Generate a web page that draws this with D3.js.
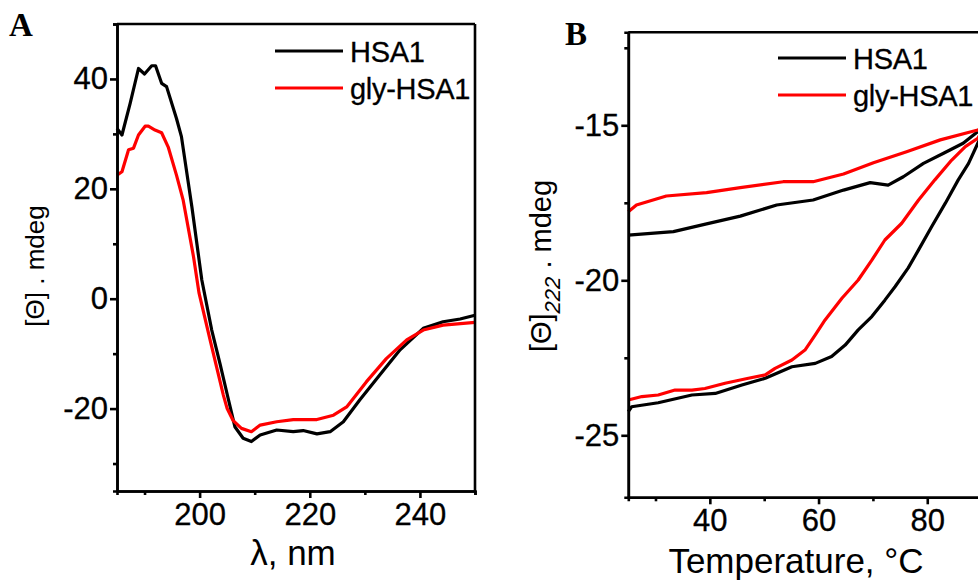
<!DOCTYPE html>
<html>
<head>
<meta charset="utf-8">
<script src="https://cdn.jsdelivr.net/npm/d3@7"></script>
<style>
  body { margin: 0; background: #fff; }
  svg { display: block; }
  text { font-family: "Liberation Sans", Arial, sans-serif; fill: #000; }
  .letter { font-family: "Liberation Serif", "Times New Roman", serif; font-weight: bold; }
</style>
</head>
<body>
<svg id="chart" width="978" height="581"></svg>
<script>
'use strict';

// panel A: far-UV CD spectra (wavelength nm, mdeg)
var hsaWl  = [185, 185.9, 187.4, 188.9, 190.0, 191.3, 192.0, 193.1, 194.0, 195.8, 196.7, 198.6, 200.4, 202.2, 203.7, 205.1, 206.4, 207.9, 209.4, 211.0, 214.0, 217.0, 218.8, 221.3, 223.7, 226.1, 229.1, 232.7, 236.4, 240.6, 244.2, 247.3, 250];
var hsaCd  = [31.0, 29.8, 35.6, 41.9, 40.9, 42.4, 42.4, 39.2, 38.6, 32.8, 29.5, 16.7, 3.4, -5.7, -11.8, -17.8, -23.3, -25.4, -26.0, -24.8, -23.9, -24.2, -24.0, -24.6, -24.2, -22.4, -18.4, -13.9, -9.3, -5.4, -4.2, -3.7, -3.0];
var glyWl  = [185, 185.9, 187.1, 188.0, 188.9, 190.1, 190.7, 191.9, 193.1, 194.3, 195.8, 197.0, 198.9, 199.9, 201.9, 204.3, 205.0, 206.1, 207.6, 209.4, 211.0, 214.0, 217.0, 221.3, 224.3, 226.7, 230.3, 233.9, 237.6, 240.6, 244.2, 250];
var glyCd  = [22.5, 23.1, 27.1, 27.4, 29.8, 31.4, 31.4, 30.7, 30.2, 27.6, 22.5, 18.0, 7.6, 1.0, -7.5, -17.5, -20.0, -22.2, -23.6, -24.2, -23.0, -22.4, -22.0, -22.0, -21.2, -19.7, -15.1, -10.9, -7.5, -5.7, -4.8, -4.3];

// panel B: thermal melt at 222 nm, heating then cooling (degC, mdeg)
var hsaT   = [25, 25.6, 30.5, 36.7, 41.0, 45.9, 50.2, 55.1, 59.4, 62.4, 64.9, 67.3, 69.8, 72.2, 74.1, 76.5, 78.4, 80.8, 83.3, 85.7, 87.6, 89.3, 90.5,
              89.3, 86.6, 83.0, 79.3, 75.6, 72.8, 69.5, 64.6, 59.0, 52.3, 45.6, 39.4, 33.3, 25];
var hsaTh  = [-24.24, -24.08, -23.95, -23.70, -23.65, -23.38, -23.16, -22.79, -22.68, -22.46, -22.09, -21.60, -21.17, -20.64, -20.20, -19.60, -19.02, -18.27, -17.52, -16.76, -16.23, -15.58, -15.10,
              -15.20, -15.58, -15.90, -16.23, -16.66, -16.93, -16.85, -17.09, -17.41, -17.57, -17.93, -18.18, -18.43, -18.54];
var glyT   = [25, 27.5, 30.5, 33.6, 36.7, 39.1, 42.8, 47.1, 50.2, 52.0, 55.1, 57.5, 59.4, 61.2, 64.3, 67.3, 69.8, 72.2, 75.3, 78.4, 81.4, 84.5, 87.0, 89.3, 90.5,
              89.3, 82.4, 76.2, 70.1, 64.6, 59.0, 53.5, 45.6, 39.4, 32.0, 26.5, 25];
var glyTh  = [-23.86, -23.75, -23.70, -23.54, -23.54, -23.49, -23.32, -23.16, -23.05, -22.84, -22.57, -22.25, -21.76, -21.28, -20.58, -19.99, -19.35, -18.70, -18.16, -17.41, -16.76, -16.12, -15.69, -15.42, -15.05,
              -15.15, -15.47, -15.85, -16.21, -16.57, -16.82, -16.82, -17.01, -17.17, -17.28, -17.57, -17.79];

var seriesNames  = ["HSA1", "gly-HSA1"];
var seriesColors = ["#000000", "#ff0000"];

var xTicksA = [200, 220, 240], xMinorA = [190, 210, 230, 250];
var yTicksA = [-20, 0, 20, 40], yMinorA = [-30, -10, 10, 30, 50];
var xTicksB = [40, 60, 80], xMinorB = [30, 50, 70, 90];
var yTicksB = [-25, -20, -15], yMinorB = [-22.5, -17.5, -12.5];

var svg = d3.select("#chart");

var zip = function(xs, ys) {
    return xs.map(function(x, i) { return [x, ys[i]]; });
};

// plain hyphen instead of d3's unicode minus
var fmt = function(d) { return String(d); };

var drawPanel = function(opt) {
    var x = d3.scaleLinear().domain(opt.xDomain).range(opt.xRange);
    var y = d3.scaleLinear().domain(opt.yDomain).range(opt.yRange);
    var g = svg.append("g");

    var line = d3.line()
        .x(function(d) { return x(d[0]); })
        .y(function(d) { return y(d[1]); });

    opt.data.forEach(function(d, i) {
        g.append("path")
            .datum(d)
            .attr("d", line)
            .style("fill", "none")
            .style("stroke", seriesColors[i])
            .style("stroke-width", 3.2)
            .style("stroke-linejoin", "round");
    });

    // minor ticks first, then major axis on top
    g.append("g")
        .attr("transform", "translate(0," + opt.yRange[0] + ")")
        .call(d3.axisBottom(x).tickValues(opt.xMinor).tickSize(4).tickFormat(""));
    g.append("g")
        .attr("transform", "translate(" + opt.xRange[0] + ",0)")
        .call(d3.axisLeft(y).tickValues(opt.yMinor).tickSize(4).tickFormat(""));
    g.append("g")
        .attr("transform", "translate(0," + opt.yRange[0] + ")")
        .call(d3.axisBottom(x).tickValues(opt.xTicks).tickFormat(fmt).tickSize(7).tickSizeOuter(0).tickPadding(5));
    g.append("g")
        .attr("transform", "translate(" + opt.xRange[0] + ",0)")
        .call(d3.axisLeft(y).tickValues(opt.yTicks).tickFormat(fmt).tickSize(7).tickSizeOuter(0).tickPadding(2));

    g.selectAll(".tick line, .domain").style("stroke", "#000").style("stroke-width", 2.6);
    g.selectAll(".tick text")
        .style("font-size", "31px")
        .style("stroke", "#000").style("stroke-width", 0.3);

    // frame
    g.append("line")
        .attr("x1", opt.xRange[0]).attr("x2", opt.xRange[1])
        .attr("y1", opt.yRange[1]).attr("y2", opt.yRange[1])
        .style("stroke", "#000").style("stroke-width", 2.6);
    g.append("line")
        .attr("x1", opt.xRange[1]).attr("x2", opt.xRange[1])
        .attr("y1", opt.yRange[0]).attr("y2", opt.yRange[1])
        .style("stroke", "#000").style("stroke-width", 2.6);

    // legend
    seriesNames.forEach(function(name, i) {
        var ly = opt.legend.y + i * 37;
        g.append("line")
            .attr("x1", opt.legend.x).attr("x2", opt.legend.x + 68)
            .attr("y1", ly).attr("y2", ly)
            .style("stroke", seriesColors[i]).style("stroke-width", 3.2);
        g.append("text")
            .attr("x", opt.legend.x + 75)
            .attr("y", ly + 11)
            .style("font-size", "29px")
            .style("letter-spacing", "-0.3px")
            .style("stroke", "#000").style("stroke-width", 0.3)
            .text(name);
    });

    return g;
};

var gA = drawPanel({
    xDomain: [185, 250], xRange: [117, 475],
    yDomain: [-35, 50], yRange: [491, 24],
    xTicks: xTicksA, xMinor: xMinorA, yTicks: yTicksA, yMinor: yMinorA,
    data: [zip(hsaWl, hsaCd), zip(glyWl, glyCd)],
    legend: { x: 275, y: 51 }
});

var gB = drawPanel({
    xDomain: [25, 95], xRange: [628.3, 1008.8],
    yDomain: [-27, -12], yRange: [497.3, 32.3],
    xTicks: xTicksB, xMinor: xMinorB, yTicks: yTicksB, yMinor: yMinorB,
    data: [zip(hsaT, hsaTh), zip(glyT, glyTh)],
    legend: { x: 778, y: 58 }
});

// axis titles
gA.append("text")
    .attr("x", 293).attr("y", 565)
    .attr("text-anchor", "middle")
    .style("font-size", "35px")
    .text("λ, nm");

gB.append("text")
    .attr("x", 796).attr("y", 573)
    .attr("text-anchor", "middle")
    .style("font-size", "35px")
    .text("Temperature, °C");

gA.append("text")
    .attr("transform", "translate(43.5,266) rotate(-90)")
    .attr("text-anchor", "middle")
    .style("font-size", "26px")
    .text("[Θ] . mdeg");

var labB = gB.append("text")
    .attr("transform", "translate(551,266) rotate(-90)")
    .attr("text-anchor", "middle")
    .style("font-size", "29px");
labB.append("tspan").text("[Θ]");
labB.append("tspan").attr("dy", 9).style("font-size", "22px").style("font-style", "italic").text("222");
labB.append("tspan").attr("dy", -9).text(" . mdeg");

// panel letters
svg.append("text").attr("class", "letter").attr("x", 9).attr("y", 36).style("font-size", "33px").text("A");
svg.append("text").attr("class", "letter").attr("x", 565).attr("y", 45).style("font-size", "33px").text("B");
</script>
</body>
</html>
